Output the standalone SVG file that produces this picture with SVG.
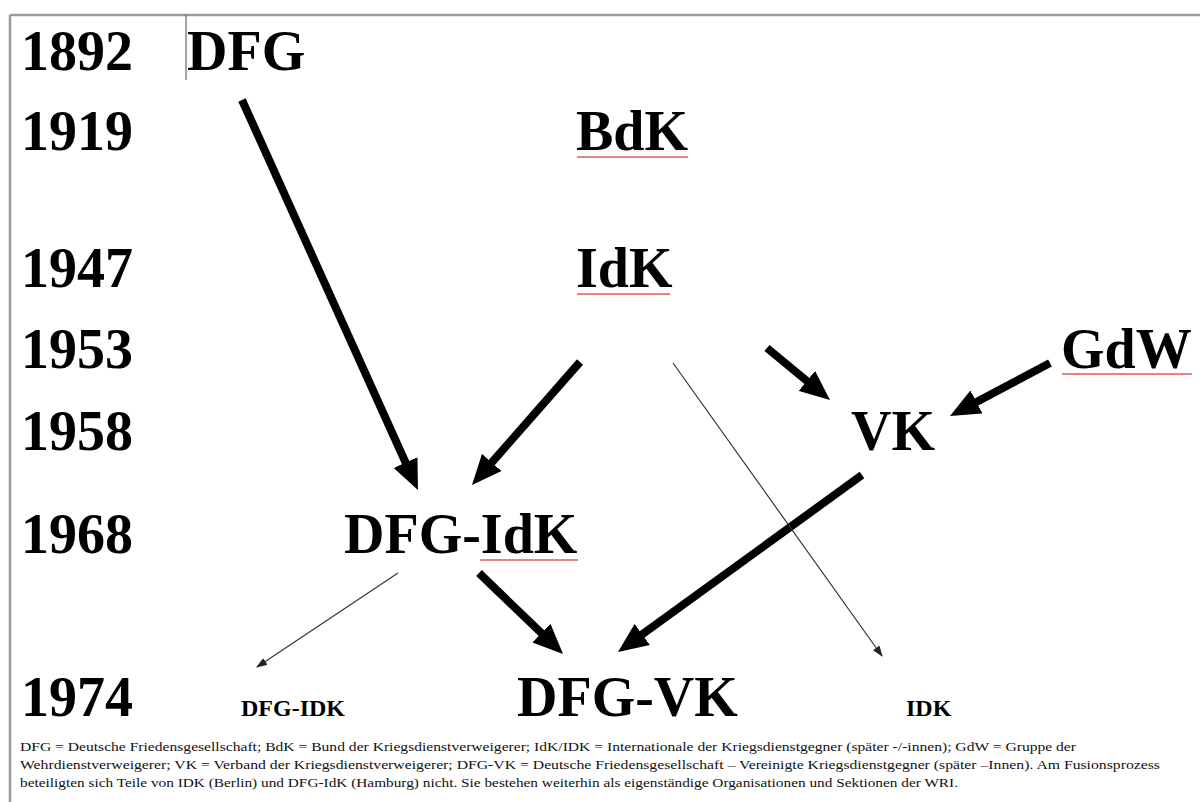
<svg xmlns="http://www.w3.org/2000/svg" width="1200" height="802" viewBox="0 0 1200 802">
<style>
.big{font-family:"Liberation Serif","Times New Roman",serif;font-weight:bold;font-size:56px;fill:#000}
.small{font-family:"Liberation Serif","Times New Roman",serif;font-weight:bold;font-size:24px;fill:#000}
.foot{font-family:"Liberation Serif","Times New Roman",serif;font-size:12.5px;fill:#111}
.thick{stroke:#000;stroke-width:8;fill:none;marker-end:url(#headBig)}
.thin{stroke:#333;stroke-width:1.2;fill:none;marker-end:url(#headSmall)}
.wavy{stroke:#e05a5a;stroke-width:1.5;fill:none}
</style>
<defs>
<marker id="headBig" markerUnits="userSpaceOnUse" markerWidth="30" markerHeight="26" viewBox="0 0 30 26" refX="8" refY="13" orient="auto">
<path d="M0,0 L30,13 L0,26 z" fill="#000"/>
</marker>
<marker id="headSmall" markerUnits="userSpaceOnUse" markerWidth="11" markerHeight="8" viewBox="0 0 11 8" refX="10" refY="4" orient="auto">
<path d="M0,0 L11,4 L0,8 z" fill="#222"/>
</marker>
</defs>
<rect width="1200" height="802" fill="#fff"/>
<g id="frame">
<line x1="10" y1="15" x2="1200" y2="15" stroke="#9a9a9a" stroke-width="2.5"/>
<line x1="10" y1="15" x2="10" y2="802" stroke="#9a9a9a" stroke-width="2.5"/>
<line x1="186" y1="15" x2="186" y2="80" stroke="#666" stroke-width="1.2"/>
</g>
<g id="years" class="big">
<text x="21" y="70">1892</text>
<text x="21" y="150">1919</text>
<text x="21" y="287">1947</text>
<text x="21" y="368">1953</text>
<text x="21" y="450">1958</text>
<text x="21" y="553">1968</text>
<text x="21" y="716">1974</text>
</g>
<g id="connectors">
<line class="thick" x1="242" y1="100" x2="408.9" y2="469.9"/>
<line class="thick" x1="580" y1="362" x2="486.5" y2="468.5"/>
<line class="thick" x1="767" y1="348" x2="813" y2="386"/>
<line class="thick" x1="1050" y1="363" x2="969.4" y2="405.7"/>
<line class="thick" x1="862" y1="475" x2="635.8" y2="639.1"/>
<line class="thick" x1="479" y1="573" x2="547.2" y2="638.7"/>
<line class="thin" x1="398" y1="573" x2="257" y2="667"/>
<line class="thin" x1="673" y1="363" x2="882" y2="656"/>
</g>
<g id="node-DFG"><text class="big" x="187" y="70">DFG</text></g>
<g id="node-BdK"><text class="big" x="576" y="150">BdK</text><line class="wavy" x1="577" y1="157" x2="688" y2="157"/></g>
<g id="node-IdK"><text class="big" x="576" y="287">IdK</text><line class="wavy" x1="577" y1="294" x2="670" y2="294"/></g>
<g id="node-GdW"><text class="big" x="1061" y="368">GdW</text><line class="wavy" x1="1062" y1="374" x2="1192" y2="374"/></g>
<g id="node-VK"><text class="big" x="851" y="450">VK</text></g>
<g id="node-DFG-IdK"><text class="big" x="344" y="553">DFG-IdK</text><line class="wavy" x1="480" y1="560" x2="578" y2="560"/></g>
<g id="node-DFG-IDK"><text class="small" x="241" y="716">DFG-IDK</text></g>
<g id="node-DFG-VK"><text class="big" x="517" y="716">DFG-VK</text></g>
<g id="node-IDK"><text class="small" x="906" y="716">IDK</text></g>
<g id="legend" class="foot">
<text x="20" y="751" textLength="1056" lengthAdjust="spacingAndGlyphs">DFG = Deutsche Friedensgesellschaft; BdK = Bund der Kriegsdienstverweigerer; IdK/IDK = Internationale der Kriegsdienstgegner (später -/-innen); GdW = Gruppe der</text>
<text x="20" y="769" textLength="1140" lengthAdjust="spacingAndGlyphs">Wehrdienstverweigerer; VK = Verband der Kriegsdienstverweigerer; DFG-VK = Deutsche Friedensgesellschaft – Vereinigte Kriegsdienstgegner (später –Innen). Am Fusionsprozess</text>
<text x="20" y="787" textLength="938" lengthAdjust="spacingAndGlyphs">beteiligten sich Teile von IDK (Berlin) und DFG-IdK (Hamburg) nicht. Sie bestehen weiterhin als eigenständige Organisationen und Sektionen der WRI.</text>
</g>
</svg>
